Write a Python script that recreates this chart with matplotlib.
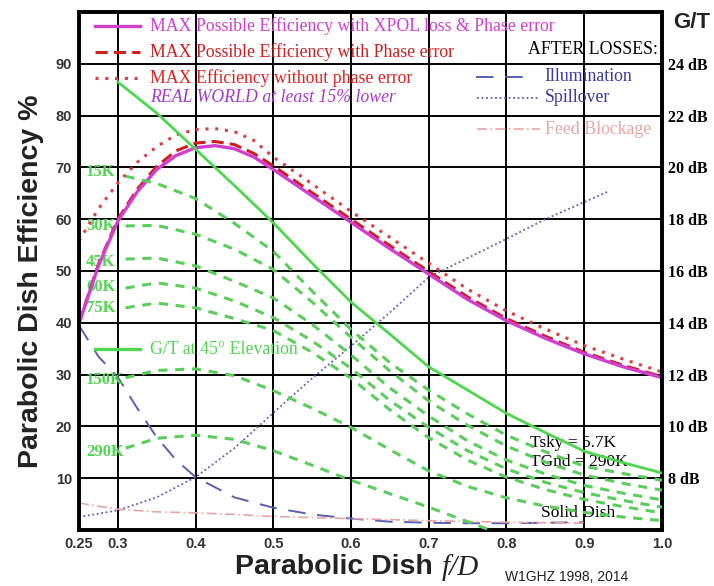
import matplotlib
matplotlib.use("Agg")
import matplotlib.pyplot as plt

# efficiency curves (left axis, %)
fd_eff = [0.25, 0.275, 0.3, 0.325, 0.35, 0.375, 0.4, 0.425, 0.45, 0.475, 0.5,
          0.55, 0.6, 0.65, 0.7, 0.75, 0.8, 0.85, 0.9, 0.95, 1.0]
eff_xpol = [39.8, 51.0, 59.6, 65.3, 69.6, 72.3, 73.8, 74.2, 73.6, 72.0, 69.6,
            64.5, 59.4, 54.3, 49.4, 44.5, 40.4, 37.0, 34.0, 31.5, 29.4]
eff_phase = [40.0, 51.3, 60.0, 65.8, 70.2, 73.2, 74.7, 75.0, 74.4, 72.7, 70.3,
             65.1, 60.0, 54.9, 49.9, 45.0, 40.8, 37.4, 34.3, 31.8, 29.6]
eff_nophase = [55.8, 62.0, 67.0, 71.0, 74.0, 76.3, 77.3, 77.5, 76.9, 75.2, 72.0,
               66.8, 61.5, 56.5, 51.5, 46.5, 42.3, 38.8, 35.6, 33.0, 30.5]

# losses
fd_illum = [0.25, 0.275, 0.3, 0.325, 0.35, 0.375, 0.4, 0.45, 0.5, 0.55, 0.6,
            0.65, 0.7, 0.75, 0.8, 0.85, 0.9]
illum = [39.5, 33.5, 29.5, 23.5, 17.9, 13.5, 10.2, 6.3, 4.3, 3.0, 2.2,
         1.6, 1.4, 1.3, 1.3, 1.4, 1.5]
fd_spill = [0.25, 0.3, 0.35, 0.4, 0.45, 0.5, 0.55, 0.6, 0.65, 0.7, 0.75,
            0.8, 0.85, 0.9, 0.93]
spill = [2.5, 3.8, 6.3, 10.2, 15.8, 22.6, 29.3, 35.5, 42.0, 48.8, 52.5,
         56.2, 60.0, 63.3, 65.3]
fd_block = [0.25, 0.275, 0.3, 0.35, 0.4, 0.45, 0.5, 0.6, 0.7, 0.8, 0.9]
block = [5.2, 4.6, 4.0, 3.5, 3.3, 3.0, 2.6, 2.2, 1.8, 1.5, 1.3]

# G/T curves (right axis, dB)
fd_gt45 = [0.3, 0.35, 0.4, 0.45, 0.5, 0.55, 0.6, 0.65, 0.7, 0.75, 0.8,
           0.85, 0.9, 0.95, 1.0]
gt45 = [23.3, 22.1, 20.7, 19.3, 17.86, 16.3, 14.8, 13.56, 12.3, 11.4, 10.5,
        9.76, 9.04, 8.6, 8.2]
fd_gt = [0.31, 0.35, 0.4, 0.45, 0.5, 0.55, 0.6, 0.65, 0.7, 0.75, 0.8,
         0.85, 0.9, 0.95, 1.0]
gt_labels = ["15K", "30K", "45K", "60K", "75K", "150K", "290K"]
gt_15 = [19.66, 19.38, 18.8, 17.84, 16.76, 15.22, 13.74, 12.46, 11.4, 10.48, 9.66, 9.02, 8.46, 8.18, 7.92]
gt_30 = [17.74, 17.76, 17.42, 16.84, 16.06, 14.8, 13.44, 12.14, 10.98, 10.04, 9.24, 8.62, 8.12, 7.8, 7.54]
gt_45 = [16.46, 16.5, 16.2, 15.6, 14.96, 13.94, 12.76, 11.48, 10.4, 9.44, 8.7, 8.16, 7.72, 7.42, 7.16]
gt_60 = [15.34, 15.54, 15.34, 14.84, 14.2, 13.3, 12.24, 11.0, 9.96, 9.06, 8.36, 7.84, 7.44, 7.14, 6.88]
gt_75 = [14.58, 14.76, 14.58, 14.16, 13.7, 12.86, 11.86, 10.64, 9.56, 8.7, 8.04, 7.56, 7.18, 6.9, 6.66]
gt_150 = [11.88, 12.16, 12.22, 11.96, 11.38, 10.7, 9.96, 9.1, 8.28, 7.68, 7.24, 6.92, 6.68, 6.5, 6.36]
gt_290 = [9.16, 9.54, 9.66, 9.5, 9.06, 8.5, 7.92, 7.4, 6.88, 6.32, 5.76]
label_y = [0.691, 0.587, 0.517, 0.469, 0.429, 0.290, 0.151]

xticks = [0.25, 0.3, 0.4, 0.5, 0.6, 0.7, 0.8, 0.9, 1.0]
xticklabels = ["0.25", "0.3", "0.4", "0.5", "0.6", "0.7", "0.8", "0.9", "1.0"]
yticks = [10, 20, 30, 40, 50, 60, 70, 80, 90]
db_ticks = [8, 10, 12, 14, 16, 18, 20, 22, 24]

serif = "Liberation Serif"
sans = "Liberation Sans"
green = "#4fd64f"
gdash = "#5ccc5c"
magenta = "#d13fd1"
red = "#cc2020"
navy = "#3a3aa0"
pink = "#e8a4a4"

fig = plt.figure(figsize=(7.14, 5.86), dpi=100)
ax = fig.add_axes([0.1106, 0.0956, 0.8165, 0.8839])
ax2 = ax.twinx()

ax.set_xlim(0.25, 1.0)
ax.set_ylim(0, 100)
ax2.set_ylim(6, 26)

for x in xticks[1:-1]:
    ax.axvline(x, color="black", lw=1.4, zorder=1)
for y in yticks:
    ax.axhline(y, color="black", lw=1.4, zorder=1)

ax.plot(fd_illum, illum, color="#5560b0", lw=1.4, dashes=(9, 6), zorder=2)
ax.plot(fd_spill, spill, color="#5a5fb8", lw=1.3, ls=(0, (1, 1.5)), zorder=2)
ax.plot(fd_block, block, color=pink, lw=1.2, dashes=(6, 2, 1, 2), zorder=2)

for vals, lab in zip([gt_15, gt_30, gt_45, gt_60, gt_75, gt_150, gt_290], gt_labels):
    ax2.plot(fd_gt[:len(vals)], vals, color=gdash, lw=2.2, dashes=(3, 2.5), zorder=3)
ax2.plot(fd_gt45, gt45, color=green, lw=2.0, zorder=3)

ax.plot(fd_eff, eff_nophase, color="#d84040", lw=2.2, ls=(0, (1, 2.2)), zorder=4)
ax.plot(fd_eff, eff_phase, color=red, lw=2.2, dashes=(4, 2), zorder=4)
ax.plot(fd_eff, eff_xpol, color=magenta, lw=2.4, zorder=5)

# frame
for a in (ax, ax2):
    for s in a.spines.values():
        s.set_linewidth(2.6)
ax.set_xticks(xticks)
ax.set_xticklabels(xticklabels, fontsize=10.5, fontweight="bold", color="#333333", family=sans)
ax.set_yticks(yticks)
ax.set_yticklabels([str(v) for v in yticks], fontsize=10.5, fontweight="bold", color="#333333", family=sans)
ax.tick_params(length=0, pad=5)
ax2.set_yticks(db_ticks)
ax2.set_yticklabels([f"{v} dB" for v in db_ticks], fontsize=11.5, fontweight="bold", family=serif)
ax2.tick_params(length=0, pad=4)

# legend-like annotations
tr = ax.transAxes
ax.plot([0.027, 0.105], [0.973, 0.973], color=magenta, lw=2.4, transform=tr)
ax.plot([0.027, 0.105], [0.923, 0.923], color=red, lw=2.2, dashes=(4, 2), transform=tr)
ax.plot([0.027, 0.105], [0.873, 0.873], color="#d84040", lw=2.2, ls=(0, (1, 2.2)), transform=tr)
ax.text(0.122, 0.973, "MAX Possible Efficiency with XPOL loss & Phase error", color=magenta,
        fontsize=12.8, family=serif, transform=tr, va="center")
ax.text(0.122, 0.923, "MAX Possible Efficiency with Phase error", color=red,
        fontsize=12.8, family=serif, transform=tr, va="center")
ax.text(0.122, 0.873, "MAX Efficiency without phase error", color="#dd2222",
        fontsize=12.8, family=serif, transform=tr, va="center")
ax.text(0.122, 0.834, "REAL WORLD at least 15% lower", color="#a53ad0",
        fontsize=12.8, family=serif, style="italic", transform=tr, va="center")

ax.text(0.993, 0.927, "AFTER LOSSES:", color="black", fontsize=12.8, family=serif,
        transform=tr, ha="right", va="center")
ax.plot([0.681, 0.777], [0.875, 0.875], color="#5560b0", lw=1.4, dashes=(9, 6), transform=tr)
ax.plot([0.683, 0.791], [0.834, 0.834], color="#5a5fb8", lw=1.3, ls=(0, (1, 1.5)), transform=tr)
ax.plot([0.683, 0.791], [0.774, 0.774], color=pink, lw=1.2, dashes=(6, 2, 1, 2), transform=tr)
ax.text(0.799, 0.875, "Illumination", color=navy, fontsize=12.8, family=serif, transform=tr, va="center")
ax.text(0.799, 0.834, "Spillover", color=navy, fontsize=12.8, family=serif, transform=tr, va="center")
ax.text(0.799, 0.774, "Feed Blockage", color=pink, fontsize=12.8, family=serif, transform=tr, va="center")

ax.plot([0.027, 0.105], [0.349, 0.349], color=green, lw=2.4, transform=tr)
ax.text(0.122, 0.349, "G/T at 45\u00b0 Elevation", color=green, fontsize=12.8, family=serif,
        transform=tr, va="center")
for lab, yy in zip(gt_labels, label_y):
    ax.text(0.012, yy, lab, color=green, fontsize=12, family=serif, fontweight="bold",
            transform=tr, va="center")

ax.text(0.774, 0.168, "Tsky = 5.7K", fontsize=12.5, family=serif, transform=tr, va="center")
ax.text(0.774, 0.131, "TGnd = 290K", fontsize=12.5, family=serif, transform=tr, va="center")
ax.text(0.792, 0.033, "Solid Dish", fontsize=12.5, family=serif, transform=tr, va="center")

fig.text(0.043, 0.52, "Parabolic Dish Efficiency %", rotation=90, fontsize=20.5,
         fontweight="bold", family=sans, ha="center", va="center", color="#222222")
fig.text(0.617, 0.032, "Parabolic Dish ", fontsize=20.5, fontweight="bold", family=sans,
         ha="right", va="center", color="#222222")
fig.text(0.619, 0.032, "f/D", fontsize=21, style="italic", family=serif,
         ha="left", va="center", color="#222222")
fig.text(0.968, 0.962, "G/T", fontsize=16, fontweight="bold", family=sans,
         ha="center", va="center", color="#222222")
fig.text(0.707, 0.003, "W1GHZ 1998, 2014", fontsize=10, family=sans, ha="left",
         va="bottom", color="#222222")

fig.savefig("out.png", dpi=100)
